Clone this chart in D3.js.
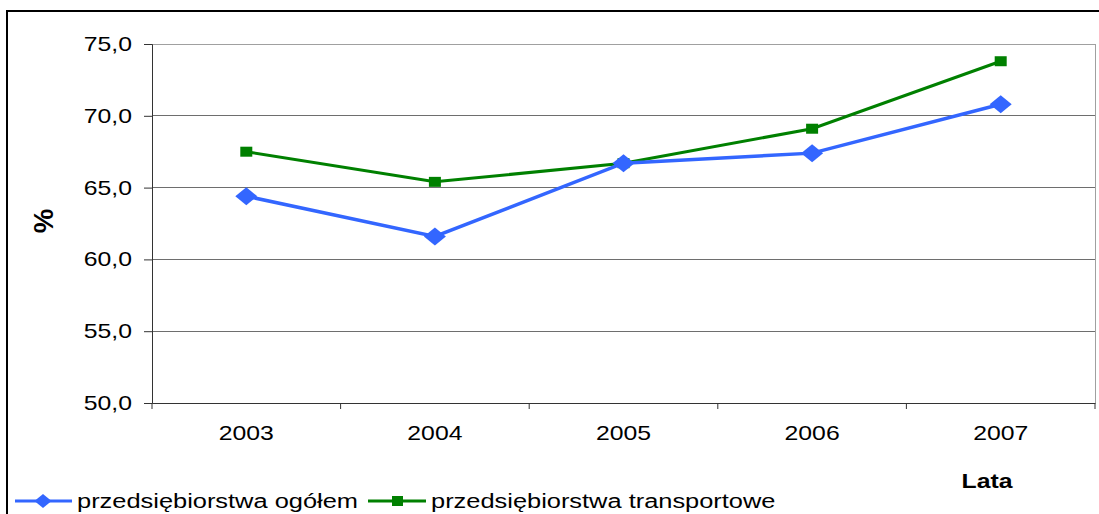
<!DOCTYPE html>
<html><head><meta charset="utf-8">
<script src="https://cdn.jsdelivr.net/npm/d3@7"></script>
<style>body{margin:0;background:#fff}svg{display:block;font-family:"Liberation Sans",Arial,sans-serif}</style>
</head><body>
<script>
const years = ["2003","2004","2005","2006","2007"];
const ogolem = [64.4, 61.6, 66.7, 67.4, 70.8];
const transport = [67.5, 65.4, 66.7, 69.1, 73.8];
const yTicks = [50, 55, 60, 65, 70, 75];
const seriesNames = ["przedsiębiorstwa ogółem", "przedsiębiorstwa transportowe"];

const W = 1099, H = 514;
const SX = 1.24; // horizontal stretch of text
const SXL = 1.27;
const FS = 20;
const svg = d3.select("body").append("svg").attr("width", W).attr("height", H);
const L = 152, R = 1095, T = 44, B = 403;
const x = d3.scaleBand().domain(years).range([L, R]);
const y = d3.scaleLinear().domain([50, 75]).range([B, T]);
const fmt = d => d.toFixed(1).replace(".", ",");

function stretch(sel) {
  sel.each(function () {
    const t = d3.select(this);
    const xx = +t.attr("x") || 0;
    t.attr("x", 0).attr("transform", `translate(${xx},0) scale(${SX},1)`);
  });
}

// outer frame
svg.append("line").attr("x1", 7).attr("x2", W).attr("y1", 11).attr("y2", 11).attr("stroke", "#000").attr("stroke-width", 2);
svg.append("line").attr("x1", 7).attr("x2", 7).attr("y1", 10).attr("y2", H).attr("stroke", "#000").attr("stroke-width", 2);

// gridlines
svg.append("g").selectAll("line").data(yTicks.filter(v => v > 50)).join("line")
  .attr("x1", L).attr("x2", R).attr("y1", d => y(d)).attr("y2", d => y(d))
  .attr("stroke", d => d === 75 ? "#a0a0a0" : "#6e6e6e").attr("stroke-width", 1).attr("shape-rendering", "crispEdges");
svg.append("line").attr("x1", R).attr("x2", R).attr("y1", T).attr("y2", B).attr("stroke", "#a0a0a0").attr("shape-rendering", "crispEdges");

// y axis
const ya = svg.append("g").attr("transform", `translate(${L},0)`)
  .call(d3.axisLeft(y).tickValues(yTicks).tickFormat(fmt).tickSize(8).tickPadding(12));
ya.attr("font-size", FS).attr("font-family", "Liberation Sans, Arial, sans-serif");
ya.select(".domain").attr("stroke", "#333");
ya.selectAll(".tick line").attr("stroke", "#333");
ya.selectAll("text").attr("fill", "#000").call(stretch);

// x axis
const xa = svg.append("g").attr("transform", `translate(0,${B})`)
  .call(d3.axisBottom(x).tickSize(0).tickPadding(23));
xa.attr("font-size", FS).attr("font-family", "Liberation Sans, Arial, sans-serif");
xa.select(".domain").attr("stroke", "#333");
xa.selectAll("text").attr("fill", "#000").call(stretch);
const bounds = years.map(yr => x(yr)).concat([R]);
svg.append("g").selectAll("line").data(bounds).join("line")
  .attr("x1", d => d).attr("x2", d => d).attr("y1", B).attr("y2", B + 6).attr("stroke", "#333");

// axis titles
svg.append("text").attr("transform", "translate(53,221) rotate(-90) scale(1.15,1.15)").attr("text-anchor", "middle")
  .attr("font-size", 24).attr("font-weight", "bold").text("%");
svg.append("text").attr("transform", `translate(987,488) scale(${SX},1)`).attr("text-anchor", "middle")
  .attr("font-size", FS).attr("font-weight", "bold").text("Lata");

const cx = d => x(d) + x.bandwidth() / 2;
const line = d3.line().x((d, i) => cx(years[i])).y(d => y(d));
const blue = "#3366ff", green = "#008000";
const diamondPath = (w, h) => `M0,${-h / 2}L${w / 2},0L0,${h / 2}L${-w / 2},0Z`;

svg.append("path").datum(transport).attr("d", line).attr("fill", "none").attr("stroke", green).attr("stroke-width", 3);
svg.append("g").selectAll("rect").data(transport).join("rect")
  .attr("x", (d, i) => cx(years[i]) - 6).attr("y", d => y(d) - 5).attr("width", 12).attr("height", 10).attr("fill", green);

svg.append("path").datum(ogolem).attr("d", line).attr("fill", "none").attr("stroke", blue).attr("stroke-width", 3.5);
svg.append("g").selectAll("path").data(ogolem).join("path")
  .attr("d", diamondPath(22, 18)).attr("fill", blue)
  .attr("transform", (d, i) => `translate(${cx(years[i])},${y(d)})`);

// legend
const lg = svg.append("g");
lg.append("line").attr("x1", 15).attr("x2", 72).attr("y1", 501).attr("y2", 501).attr("stroke", blue).attr("stroke-width", 3);
lg.append("path").attr("d", diamondPath(17, 14)).attr("fill", blue).attr("transform", "translate(43,501)");
lg.append("text").attr("transform", `translate(77,508) scale(${SXL},1)`).attr("font-size", FS).text(seriesNames[0]);
lg.append("line").attr("x1", 368).attr("x2", 426).attr("y1", 501).attr("y2", 501).attr("stroke", green).attr("stroke-width", 3);
lg.append("rect").attr("x", 392).attr("y", 496).attr("width", 11).attr("height", 10).attr("fill", green);
lg.append("text").attr("transform", `translate(431,508) scale(${SXL},1)`).attr("font-size", FS).text(seriesNames[1]);
</script>
</body></html>
